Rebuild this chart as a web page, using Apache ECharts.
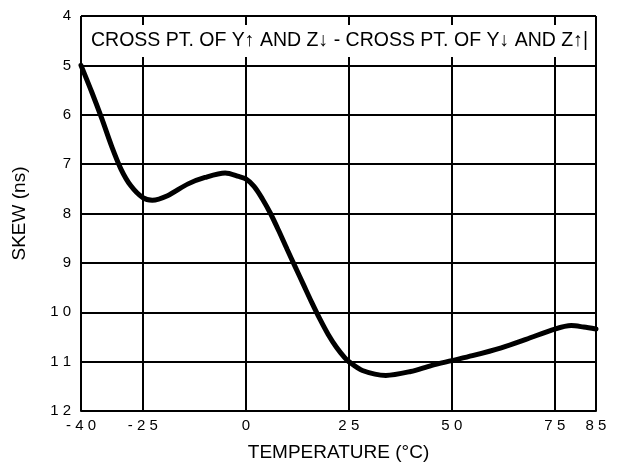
<!DOCTYPE html>
<html>
<head>
<meta charset="utf-8">
<script src="https://cdn.jsdelivr.net/npm/echarts@6/dist/echarts.min.js"></script>
<style>
html,body{margin:0;padding:0;background:#fff;}
#chart{width:618px;height:462px;}
</style>
</head>
<body>
<div id="chart"></div>
<script>
var xTicks = [-40, -25, 0, 25, 50, 75, 85];
var yTicks = [4, 5, 6, 7, 8, 9, 10, 11, 12];
var temperature = [-40, -37.3, -34.9, -32.6, -30.3, -27.9, -25, -22.7, -19, -14, -9.9, -5, -1.7, 0, 2, 4, 6, 8, 10, 12, 14, 16, 18, 20, 22, 24, 25, 28.3, 34, 40, 45, 50, 55, 62, 68, 75, 79, 82, 85];
var skew = [5.0, 5.56, 6.09, 6.63, 7.1, 7.44, 7.68, 7.73, 7.64, 7.4, 7.27, 7.18, 7.25, 7.3, 7.45, 7.7, 8.0, 8.35, 8.72, 9.08, 9.44, 9.8, 10.14, 10.45, 10.71, 10.92, 11.0, 11.18, 11.28, 11.2, 11.08, 10.98, 10.88, 10.72, 10.55, 10.34, 10.27, 10.3, 10.34];
var boxText = 'CROSS PT. OF Y\u2191 AND Z\u2193 - CROSS PT. OF Y\u2193 AND Z\u2191|';

var spaced = function (v) { return String(v).split('').join(' '); };
var font = 'Liberation Sans, Arial, Helvetica, sans-serif';

var chart = echarts.init(document.getElementById('chart'), null, {renderer: 'canvas'});
chart.setOption({
  animation: false,
  backgroundColor: '#fff',
  grid: {left: 81, right: 22, top: 16, bottom: 51, containLabel: false, outerBoundsMode: 'none'},
  xAxis: {
    type: 'value', min: -40, max: 85,
    name: 'TEMPERATURE (°C)', nameLocation: 'middle', nameGap: 32,
    nameTextStyle: {fontFamily: font, fontSize: 19, color: '#000'},
    axisLine: {show: true, lineStyle: {color: '#000', width: 2}},
    axisTick: {show: false, customValues: xTicks},
    axisLabel: {customValues: xTicks, formatter: spaced, fontFamily: font, fontSize: 15, color: '#000', margin: 7},
    splitLine: {show: true, lineStyle: {color: '#000', width: 2}}
  },
  yAxis: {
    type: 'value', min: 4, max: 12, interval: 1, inverse: true,
    name: 'SKEW (ns)', nameLocation: 'middle', nameGap: 52,
    nameTextStyle: {fontFamily: font, fontSize: 19, color: '#000'},
    axisLine: {show: true, lineStyle: {color: '#000', width: 2}},
    axisTick: {show: false},
    axisLabel: {formatter: spaced, fontFamily: font, fontSize: 15, color: '#000', margin: 10},
    splitLine: {show: true, lineStyle: {color: '#000', width: 2}}
  },
  series: [{
    type: 'line', smooth: 0.3, symbol: 'none',
    lineStyle: {color: '#000', width: 5, cap: 'round'},
    data: temperature.map(function (t, i) { return [t, skew[i]]; })
  }],
  graphic: [
    {type: 'rect', z: 100, shape: {x: 83, y: 25, width: 511, height: 32}, style: {fill: '#fff'}},
    {type: 'text', z: 101, left: 91, top: 31, style: {text: boxText, fontFamily: font, fontSize: 19.5, fill: '#000'}}
  ]
});
</script>
</body>
</html>
